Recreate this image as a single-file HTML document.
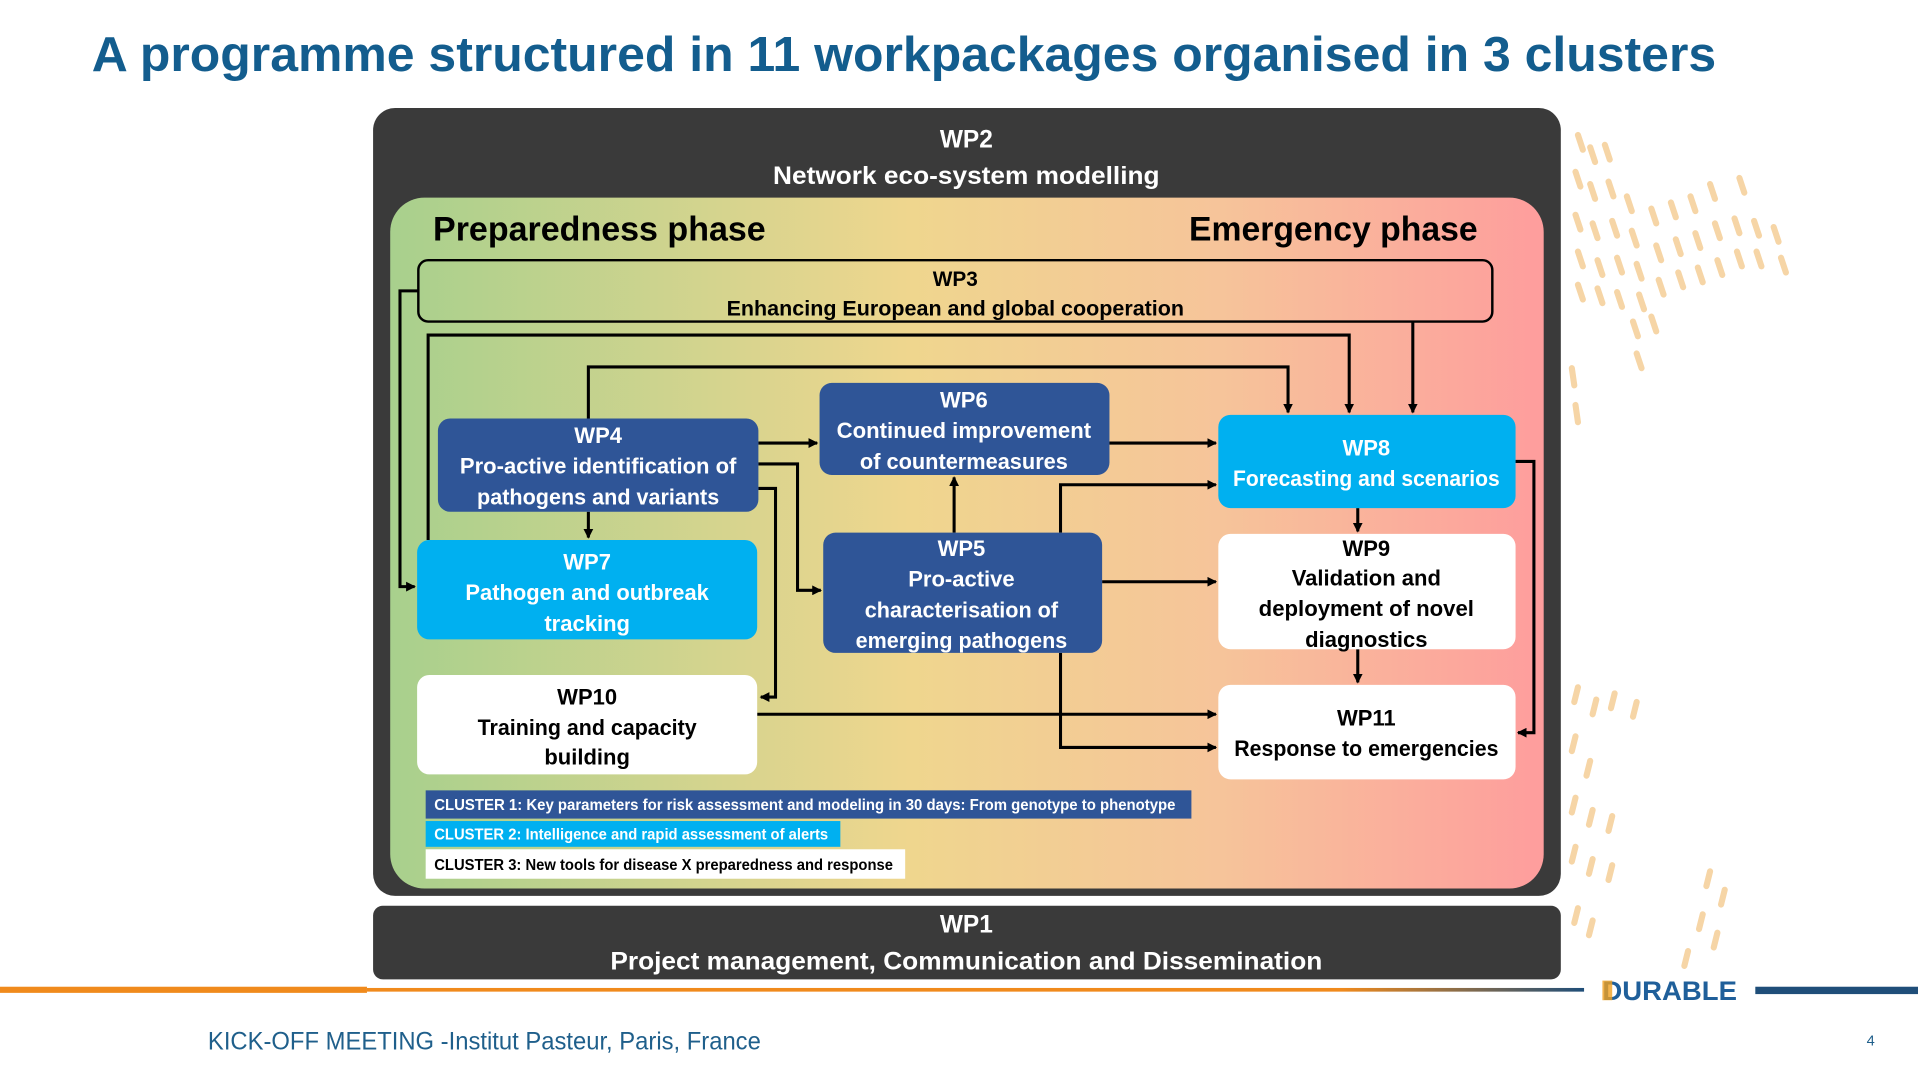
<!DOCTYPE html>
<html><head><meta charset="utf-8"><style>
html,body{margin:0;padding:0;background:#fff;overflow:hidden}
svg{display:block}
text{font-family:"Liberation Sans",sans-serif}
</style></head><body>
<svg width="1918" height="1080" viewBox="0 0 1568 880" preserveAspectRatio="none" xmlns="http://www.w3.org/2000/svg">
<defs>
<linearGradient id="g" x1="0" x2="1" y1="0" y2="0">
<stop offset="0" stop-color="#a8d08d"/><stop offset="0.45" stop-color="#efd68e"/><stop offset="0.72" stop-color="#f6c49a"/><stop offset="1" stop-color="#fe9d9d"/>
</linearGradient>
<linearGradient id="ln" x1="0" x2="1"><stop offset="0" stop-color="#f08a1c"/><stop offset="0.8" stop-color="#f08a1c"/><stop offset="1" stop-color="#1f4e79"/></linearGradient>
<marker id="a" markerWidth="8" markerHeight="8" refX="7" refY="4" orient="auto" markerUnits="userSpaceOnUse"><path d="M0,0 L8,4 L0,8 z" fill="#000"/></marker>
</defs>
<rect width="1568" height="880" fill="#fff"/>
<text x="75" y="58" font-size="40" font-weight="bold" fill="#135d8e" textLength="1328" lengthAdjust="spacingAndGlyphs">A programme structured in 11 workpackages organised in 3 clusters</text>

<!-- decorative dashes -->
<g stroke="#f6d5a6" stroke-width="5" stroke-linecap="round">
<path d="M1290,110 l4,12 M1300,120 l4,12 M1312,118 l4,12 M1288,140 l4,12 M1300,150 l4,12 M1315,148 l4,12 M1330,160 l4,12 M1288,175 l4,12 M1302,182 l4,12 M1318,180 l4,12 M1334,188 l4,12 M1350,170 l4,12 M1366,165 l4,12 M1382,160 l4,12 M1398,150 l4,12 M1422,145 l4,12 M1290,205 l4,12 M1306,212 l4,12 M1322,210 l4,12 M1338,215 l4,12 M1354,200 l4,12 M1370,195 l4,12 M1386,190 l4,12 M1402,182 l4,12 M1418,178 l4,12 M1434,180 l4,12 M1450,185 l4,12 M1290,232 l4,12 M1306,235 l4,12 M1322,238 l4,12 M1340,240 l4,12 M1356,228 l4,12 M1372,222 l4,12 M1388,218 l4,12 M1404,212 l4,12 M1420,205 l4,12 M1436,205 l4,12 M1456,210 l4,12 M1335,262 l4,12 M1350,258 l4,12 M1338,288 l4,12 M1285,300 l2,14 M1288,330 l2,14"/>
<path d="M1290,560 l-3,12 M1305,570 l-3,12 M1320,565 l-3,12 M1338,572 l-3,12 M1288,600 l-3,12 M1300,620 l-3,12 M1288,650 l-3,12 M1302,660 l-3,12 M1318,665 l-3,12 M1288,690 l-3,12 M1302,700 l-3,12 M1318,705 l-3,12 M1290,740 l-3,12 M1302,750 l-3,12 M1398,710 l-3,12 M1410,725 l-3,12 M1392,745 l-3,12 M1404,760 l-3,12 M1380,775 l-3,12"/>
</g>

<!-- WP2 outer -->
<rect x="305" y="88" width="971" height="642" rx="18" fill="#3a3a3a"/>
<text x="790" y="120" font-size="20" font-weight="bold" fill="#fff" text-anchor="middle">WP2</text>
<text x="790" y="150" font-size="20" font-weight="bold" fill="#fff" text-anchor="middle" textLength="316" lengthAdjust="spacingAndGlyphs">Network eco-system modelling</text>
<rect x="319" y="161" width="943" height="563" rx="28" fill="url(#g)"/>
<text x="354" y="196" font-size="28" font-weight="bold" fill="#000" textLength="272" lengthAdjust="spacingAndGlyphs">Preparedness phase</text>
<text x="1208" y="196" font-size="28" font-weight="bold" fill="#000" text-anchor="end" textLength="236" lengthAdjust="spacingAndGlyphs">Emergency phase</text>

<!-- WP3 -->
<rect x="342" y="212" width="878" height="50" rx="8" fill="none" stroke="#000" stroke-width="2"/>
<text x="781" y="233" font-size="17" font-weight="bold" text-anchor="middle">WP3</text>
<text x="781" y="257" font-size="17" font-weight="bold" text-anchor="middle" textLength="374" lengthAdjust="spacingAndGlyphs">Enhancing European and global cooperation</text>

<!-- connectors -->
<g fill="none" stroke="#000" stroke-width="2.5">
<path d="M342,237 H327 V478 H339" marker-end="url(#a)"/>
<path d="M350,440 V273 H1103 V336" marker-end="url(#a)"/>
<path d="M1155,262 V336" marker-end="url(#a)"/>
<path d="M481,341 V299 H1053 V336" marker-end="url(#a)"/>
<path d="M620,361 H668" marker-end="url(#a)"/>
<path d="M620,378 H652 V481 H671" marker-end="url(#a)"/>
<path d="M620,398 H634 V568 H622" marker-end="url(#a)"/>
<path d="M481,417 V438" marker-end="url(#a)"/>
<path d="M907,361 H994" marker-end="url(#a)"/>
<path d="M780,434 V389" marker-end="url(#a)"/>
<path d="M867,434 V395 H994" marker-end="url(#a)"/>
<path d="M901,474 H994" marker-end="url(#a)"/>
<path d="M867,532 V609 H994" marker-end="url(#a)"/>
<path d="M619,582 H994" marker-end="url(#a)"/>
<path d="M1110,414 V433" marker-end="url(#a)"/>
<path d="M1110,529 V556" marker-end="url(#a)"/>
<path d="M1239,376 H1254 V597 H1241" marker-end="url(#a)"/>
</g>

<!-- boxes -->
<g font-size="18" font-weight="bold" text-anchor="middle">
<rect x="358" y="341" width="262" height="76" rx="10" fill="#2f5597"/>
<text x="489" y="361" fill="#fff">WP4</text>
<text x="489" y="386" fill="#fff" textLength="226" lengthAdjust="spacingAndGlyphs">Pro-active identification of</text>
<text x="489" y="411" fill="#fff" textLength="198" lengthAdjust="spacingAndGlyphs">pathogens and variants</text>

<rect x="670" y="312" width="237" height="75" rx="10" fill="#2f5597"/>
<text x="788" y="332" fill="#fff">WP6</text>
<text x="788" y="357" fill="#fff" textLength="208" lengthAdjust="spacingAndGlyphs">Continued improvement</text>
<text x="788" y="382" fill="#fff" textLength="170" lengthAdjust="spacingAndGlyphs">of countermeasures</text>

<rect x="996" y="338" width="243" height="76" rx="10" fill="#00b0f0"/>
<text x="1117" y="371" fill="#fff">WP8</text>
<text x="1117" y="396" fill="#fff" textLength="218" lengthAdjust="spacingAndGlyphs">Forecasting and scenarios</text>

<rect x="341" y="440" width="278" height="81" rx="10" fill="#00b0f0"/>
<text x="480" y="464" fill="#fff">WP7</text>
<text x="480" y="489" fill="#fff" textLength="199" lengthAdjust="spacingAndGlyphs">Pathogen and outbreak</text>
<text x="480" y="514" fill="#fff">tracking</text>

<rect x="673" y="434" width="228" height="98" rx="10" fill="#2f5597"/>
<text x="786" y="453" fill="#fff">WP5</text>
<text x="786" y="478" fill="#fff">Pro-active</text>
<text x="786" y="503" fill="#fff" textLength="158" lengthAdjust="spacingAndGlyphs">characterisation of</text>
<text x="786" y="528" fill="#fff" textLength="173" lengthAdjust="spacingAndGlyphs">emerging pathogens</text>

<rect x="996" y="435" width="243" height="94" rx="10" fill="#fff"/>
<text x="1117" y="453">WP9</text>
<text x="1117" y="477" textLength="122" lengthAdjust="spacingAndGlyphs">Validation and</text>
<text x="1117" y="502" textLength="176" lengthAdjust="spacingAndGlyphs">deployment of novel</text>
<text x="1117" y="527">diagnostics</text>

<rect x="341" y="550" width="278" height="81" rx="10" fill="#fff"/>
<text x="480" y="574">WP10</text>
<text x="480" y="599" textLength="179" lengthAdjust="spacingAndGlyphs">Training and capacity</text>
<text x="480" y="623">building</text>

<rect x="996" y="558" width="243" height="77" rx="10" fill="#fff"/>
<text x="1117" y="591">WP11</text>
<text x="1117" y="616" textLength="216" lengthAdjust="spacingAndGlyphs">Response to emergencies</text>
</g>

<!-- clusters -->
<g font-size="12.5" font-weight="bold">
<rect x="348" y="644" width="626" height="23" fill="#2f5597"/>
<text x="355" y="660" fill="#fff" textLength="606" lengthAdjust="spacingAndGlyphs">CLUSTER 1: Key parameters for risk assessment and modeling in 30 days: From genotype to phenotype</text>
<rect x="348" y="669" width="339" height="21" fill="#00b0f0"/>
<text x="355" y="684" fill="#fff" textLength="322" lengthAdjust="spacingAndGlyphs">CLUSTER 2: Intelligence and rapid assessment of alerts</text>
<rect x="348" y="692" width="392" height="24" fill="#fff"/>
<text x="355" y="709" fill="#000" textLength="375" lengthAdjust="spacingAndGlyphs">CLUSTER 3: New tools for disease X preparedness and response</text>
</g>

<!-- WP1 -->
<rect x="305" y="738" width="971" height="60" rx="8" fill="#3a3a3a"/>
<text x="790" y="760" font-size="20" font-weight="bold" fill="#fff" text-anchor="middle">WP1</text>
<text x="790" y="790" font-size="20" font-weight="bold" fill="#fff" text-anchor="middle" textLength="582" lengthAdjust="spacingAndGlyphs">Project management, Communication and Dissemination</text>

<!-- bottom lines -->
<rect x="0" y="804" width="300" height="5" fill="#f08a1c"/>
<rect x="300" y="805" width="995" height="3" fill="url(#ln)"/>
<rect x="1435" y="804" width="133" height="6" fill="#1f4e79"/>
<text x="1310" y="815" font-size="22" font-weight="bold" fill="#1f5f9a" textLength="110" lengthAdjust="spacingAndGlyphs">DURABLE</text>
<rect x="1310" y="799" width="8" height="16" fill="#f0a020" opacity="0.8"/>

<text x="170" y="855" font-size="20" fill="#1f5f8b" textLength="452" lengthAdjust="spacingAndGlyphs">KICK-OFF MEETING -Institut Pasteur, Paris, France</text>
<text x="1526" y="852" font-size="12" fill="#1f5f8b">4</text>
</svg>
</body></html>
